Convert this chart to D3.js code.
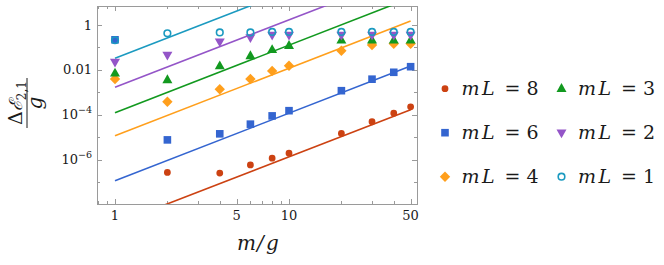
<!DOCTYPE html>
<html>
<head>
<meta charset="utf-8">
<script src="https://cdn.jsdelivr.net/npm/d3@7"></script>
<style>
body{margin:0;background:white;}
svg text{fill:#1a1a1a;}
</style>
</head>
<body>
<svg></svg>
<script>
//m/g values where the gap was computed
var massValues=[1,2,4,6,8,10,20,30,40,50];
//Delta E_{2,1}/g for every box size mL (null = below the plot)
var gapL8=[null,2.8e-7,2.6e-7,6.0e-7,1.2e-6,2.0e-6,1.5e-5,5.0e-5,1.2e-4,2.3e-4];
var gapL6=[0.22,7.8e-6,1.45e-5,3.9e-5,9.1e-5,1.55e-4,1.2e-3,3.9e-3,7.9e-3,1.4e-2];
var gapL4=[4.0e-3,3.9e-4,1.4e-3,4.0e-3,9.1e-3,1.55e-2,7.2e-2,0.13,0.145,0.145];
var gapL3=[7.1e-3,3.6e-3,1.5e-2,4.2e-2,7.8e-2,0.12,0.21,0.21,0.21,0.21];
var gapL2=[0.023,0.047,0.18,0.28,0.36,0.36,0.36,0.36,0.36,0.36];
var gapL1=[0.21,0.43,0.47,0.47,0.49,0.49,0.49,0.49,0.49,0.49];

//straight fit lines, value at m/g = 1 and at m/g = 50
var lineMass=[1,50];
var lineL8=[1.4e-9,1.7e-4];
var lineL6=[1.2e-7,1.5e-2];
var lineL4=[1.2e-5,1.5];
var lineL3=[1.26e-4,16];
var lineL2=[1.7e-3,210];
var lineL1=[0.033,4200];

var boxSizes=["8","6","4","3","2","1"];
var markerShapes=["circle","square","diamond","triangle","down","ring"];
var seriesColors=["#cc4212","#3465d0","#ff9f1c","#12991f","#9455c8","#1b9ac0"];

var xTickValues=[1,5,10,50];
var xTickLabels=["1","5","10","50"];
var xMinorTicks=[0.8,0.9,2,3,4,6,7,8,9,20,30,40];
var yTickValues=[1,0.01,1e-4,1e-6];
var yTickBase=["1","0.01","10","10"];
var yTickPower=["","","\u22124","\u22126"];
var yMinorTicks=[0.1,1e-3,1e-5,1e-7];

var serif="'DejaVu Serif', serif";

//small path for each marker, centred on 0,0
var markerPath=function(shape)
{
    if(shape=="circle"){return "M3.4,0A3.4,3.4 0 1,1 -3.4,0A3.4,3.4 0 1,1 3.4,0Z";}
    if(shape=="ring"){return "M3.3,0A3.3,3.3 0 1,1 -3.3,0A3.3,3.3 0 1,1 3.3,0Z";}
    if(shape=="square"){return "M-3.8,-3.8H3.8V3.8H-3.8Z";}
    if(shape=="diamond"){return "M0,-5.2L5.2,0L0,5.2L-5.2,0Z";}
    if(shape=="triangle"){return "M0,-5.6L5,3.2L-5,3.2Z";}
    return "M0,5.6L5,-3.2L-5,-3.2Z";
}

var drawMarker=function(target,i)
{
    var p=target.append("path")
        .attr("d",markerPath(markerShapes[i]))
    if(markerShapes[i]=="ring")
    {
        p.attr("fill","none").attr("stroke",seriesColors[i]).attr("stroke-width",1.6)
    }
    else{p.attr("fill",seriesColors[i])}
    return p;
}

var initGraph=function()
{
    var screen={width:664,height:265}
    var plot={left:97,right:417,top:6,bottom:204}

    var svg=d3.select("svg")
        .attr("width",screen.width)
        .attr("height",screen.height)

    var xScale=d3.scaleLog()
        .domain([0.788,54.4])
        .range([plot.left,plot.right])
    var yScale=d3.scaleLog()
        .domain([1.1e-8,7])
        .range([plot.bottom,plot.top])

    svg.append("clipPath").attr("id","clip")
        .append("rect")
        .attr("x",plot.left).attr("y",plot.top)
        .attr("width",plot.right-plot.left)
        .attr("height",plot.bottom-plot.top)

    //frame ticks, pointing inwards on all four sides
    var frame=svg.append("g").attr("stroke","#9a9a9a").attr("stroke-width",1)
    var xTicks=xTickValues.map(function(v){return {v:v,len:5}})
        .concat(xMinorTicks.map(function(v){return {v:v,len:3}}))
    var yTicks=yTickValues.map(function(v){return {v:v,len:5}})
        .concat(yMinorTicks.map(function(v){return {v:v,len:3}}))
    xTicks.forEach(function(t)
    {
        var x=Math.round(xScale(t.v))+0.5
        frame.append("line").attr("x1",x).attr("x2",x)
            .attr("y1",plot.bottom).attr("y2",plot.bottom-t.len)
        frame.append("line").attr("x1",x).attr("x2",x)
            .attr("y1",plot.top).attr("y2",plot.top+t.len)
    })
    yTicks.forEach(function(t)
    {
        var y=Math.round(yScale(t.v))+0.5
        frame.append("line").attr("y1",y).attr("y2",y)
            .attr("x1",plot.left).attr("x2",plot.left+t.len)
        frame.append("line").attr("y1",y).attr("y2",y)
            .attr("x1",plot.right).attr("x2",plot.right-t.len)
    })
    frame.append("rect")
        .attr("x",plot.left+0.5).attr("y",plot.top+0.5)
        .attr("width",plot.right-plot.left)
        .attr("height",plot.bottom-plot.top)
        .attr("fill","none")

    //tick labels
    svg.append("g").selectAll("text")
        .data(xTickValues)
        .enter()
        .append("text")
        .style("font-family",serif)
        .attr("x",function(d){return xScale(d)})
        .attr("y",220)
        .attr("text-anchor","middle")
        .attr("font-size",13)
        .text(function(d,i){return xTickLabels[i]})

    var yLabels=svg.append("g").selectAll("text")
        .data(yTickValues)
        .enter()
        .append("text")
        .style("font-family",serif)
        .attr("x",92)
        .attr("y",function(d){return yScale(d)+4.5})
        .attr("text-anchor","end")
        .attr("font-size",13)
    yLabels.append("tspan").text(function(d,i){return yTickBase[i]})
    yLabels.append("tspan")
        .attr("dy",-6)
        .attr("font-size",9.5)
        .text(function(d,i){return yTickPower[i]})

    //fit lines
    var lineGenerator=d3.line()
        .x(function(d,i){return xScale(lineMass[i])})
        .y(function(d){return yScale(d)})
    var lineSets=[lineL8,lineL6,lineL4,lineL3,lineL2,lineL1]
    svg.append("g")
        .attr("clip-path","url(#clip)")
        .selectAll("path")
        .data(lineSets)
        .enter()
        .append("path")
        .attr("d",lineGenerator)
        .attr("fill","none")
        .attr("stroke",function(d,i){return seriesColors[i]})
        .attr("stroke-width",1.6)

    //data points
    var gapSets=[gapL8,gapL6,gapL4,gapL3,gapL2,gapL1]
    gapSets.forEach(function(gaps,i)
    {
        var g=svg.append("g")
        gaps.forEach(function(v,j)
        {
            if(v===null){return}
            drawMarker(g,i)
                .attr("transform","translate("+xScale(massValues[j])+","+yScale(v)+")")
        })
    })

    //legend, two columns of three
    boxSizes.forEach(function(s,i)
    {
        var col=Math.floor(i/3)
        var row=i%3
        var mx=445+col*116.5
        var my=88.7+row*44
        var item=svg.append("g")
        drawMarker(item,i).attr("transform","translate("+mx+","+my+")")
        var t=item.append("text")
            .style("font-family",serif)
            .attr("y",my+6.5)
            .attr("font-size",19)
        t.append("tspan").attr("x",mx+16.5).attr("font-style","italic").text("m")
        t.append("tspan").attr("x",mx+37).attr("font-style","italic").text("L")
        t.append("tspan").attr("x",mx+59.5).text("=")
        t.append("tspan").attr("x",mx+81.5).text(s)
    })

    //axis labels
    var xLab=svg.append("text")
        .style("font-family",serif)
        .attr("y",250)
        .attr("font-size",20)
        .attr("font-style","italic")
    xLab.append("tspan").attr("x",237).text("m")
    xLab.append("tspan").attr("x",257).text("/")
    xLab.append("tspan").attr("x",266).text("g")

    var yLab=svg.append("g").attr("transform","translate(27,103) rotate(-90)")
    var num=yLab.append("text")
        .style("font-family",serif)
        .attr("x",0).attr("y",-5)
        .attr("text-anchor","middle")
        .attr("font-size",19)
    num.append("tspan").text("\u0394")
    num.append("tspan").attr("font-style","italic").attr("font-size",18).text("\u2130")
    num.append("tspan").attr("font-size",12).attr("dy",4).text("2,1")
    yLab.append("line")
        .attr("x1",-25).attr("x2",25)
        .attr("y1",0).attr("y2",0)
        .attr("stroke","#1a1a1a").attr("stroke-width",1)
    yLab.append("text")
        .style("font-family",serif)
        .attr("x",0).attr("y",15)
        .attr("text-anchor","middle")
        .attr("font-size",20)
        .attr("font-style","italic")
        .text("g")
}

initGraph();
</script>
</body>
</html>
